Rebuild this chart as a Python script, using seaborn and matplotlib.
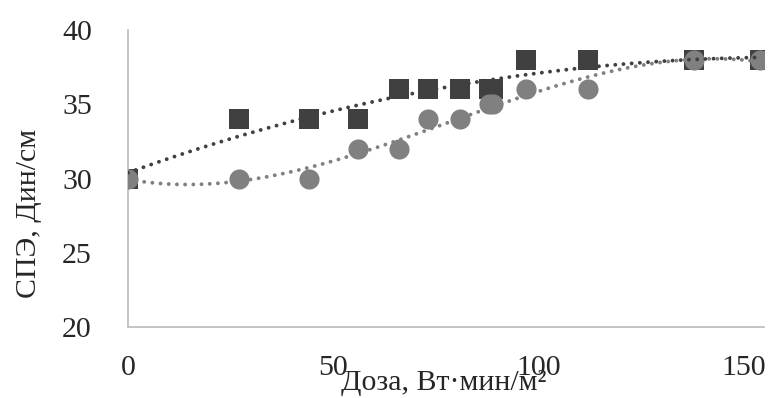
import seaborn as sns
import matplotlib.pyplot as plt
import pandas as pd

# dose, W*min/m2
dose = [0, 27, 44, 56, 66, 73, 81, 88, 89, 97, 112, 138, 154]
# surface energy, dyn/cm
spe_squares = [30, 34, 34, 34, 36, 36, 36, 36, 36, 38, 38, 38, 38]
spe_circles = [30, 30, 30, 32, 32, 34, 34, 35, 35, 36, 36, 38, 38]

x_ticks = [0, 50, 100, 150]
y_ticks = [20, 25, 30, 35, 40]

dark = "#404040"
grey = "#808080"


def main():
    df = pd.DataFrame({"dose": dose, "sq": spe_squares, "ci": spe_circles})

    sns.set_style("white")
    plt.rcParams["font.family"] = ["Liberation Serif", "DejaVu Serif"]

    fig = plt.figure(figsize=(7.69, 3.98), dpi=100)
    ax = fig.add_axes([0.1664, 0.1784, 0.8271, 0.7462])

    sns.scatterplot(data=df, x="dose", y="sq", marker="s", s=225, color=dark,
                    linewidth=0, ax=ax, zorder=2)
    sns.scatterplot(data=df, x="dose", y="ci", marker="o", s=210, color=grey,
                    linewidth=0, ax=ax, zorder=3)

    # polynomial trendlines (order 3), dotted
    dots = (0, (0.01, 2.1))
    sns.regplot(data=df, x="dose", y="sq", order=3, ci=None, scatter=False, ax=ax,
                line_kws=dict(color=dark, lw=2.8, linestyle=dots,
                              dash_capstyle="round", zorder=4))
    sns.regplot(data=df, x="dose", y="ci", order=3, ci=None, scatter=False, ax=ax,
                line_kws=dict(color=grey, lw=2.8, linestyle=dots,
                              dash_capstyle="round", zorder=5))

    ax.set_xlim(0, 155)
    ax.set_ylim(20, 40)
    ax.set_xticks(x_ticks)
    ax.set_yticks(y_ticks)
    ax.tick_params(length=0, labelsize=21.5)
    ax.tick_params(axis="x", pad=20)
    ax.tick_params(axis="y", pad=26)
    ax.set_xlabel("")
    ax.set_ylabel("")

    for side in ["top", "right"]:
        ax.spines[side].set_visible(False)
    for side in ["left", "bottom"]:
        ax.spines[side].set_color("#bfbfbf")
        ax.spines[side].set_linewidth(1.3)

    fig.text(444 / 769, 1 - 383 / 398, "Доза, Вт·мин/м²", fontsize=21.5,
             ha="center", va="center")
    fig.text(29 / 769, 1 - 213 / 398, "СПЭ, Дин/см", fontsize=21.5,
             ha="center", va="center", rotation=90)

    fig.savefig("out.png", dpi=100)


if __name__ == "__main__":
    main()
